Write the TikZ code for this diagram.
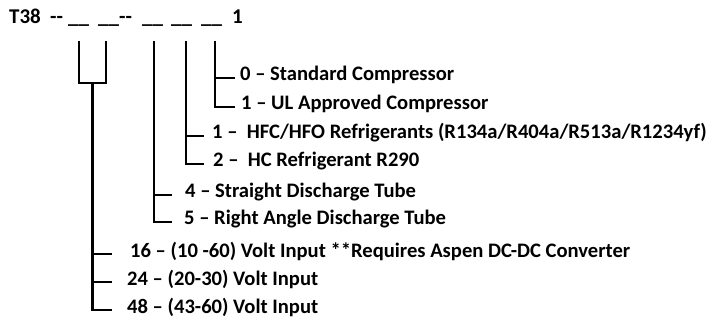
\documentclass[tikz,border=0pt]{standalone}
\usepackage{fontspec}
\setmainfont{Carlito}
\usetikzlibrary{positioning}

\begin{document}
\begin{tikzpicture}[
  x=1pt, y=-1pt,
  font=\bfseries\fontsize{20.6}{24}\selectfont,
  codepart/.style={anchor=base west, inner sep=0pt,
                   font=\bfseries\fontsize{21}{24}\selectfont},
  optlabel/.style={anchor=west, inner sep=0pt,
                   text height=0.8em, text depth=0.2em},
  tree/.style={line width=2.7pt, black},
]
\useasboundingbox (0,0) rectangle (712,323);

% ---- Part number code ----
\node[codepart] (t38)    at (9,24)   {T38};
\node[codepart] (dashA)  at (50,24)  {-{}-};
\node[codepart] (blankA) at (68,24)  {\_\_};
\node[codepart] (blankB) at (98,24)  {\_\_-{}-};
\node[codepart] (blankC) at (142,24) {\_\_};
\node[codepart] (blankD) at (171,24) {\_\_};
\node[codepart] (blankE) at (201,24) {\_\_};
\node[codepart] (last)   at (232,24) {1};

% ---- Tops of the drop lines ----
\coordinate (vA) at (79,41);
\coordinate (vB) at (106,41);
\coordinate (vC) at (154,41);
\coordinate (vD) at (186,41);
\coordinate (vE) at (215,41);
\coordinate (uJoin) at (92.5,83);

% Tick ends
\coordinate (endU) at (112,0);
\coordinate (endC) at (172,0);
\coordinate (endD) at (204,0);
\coordinate (endE) at (235,0);

% ---- Option labels ----
\node[optlabel] (comp0) at (240,78)  {0 – Standard Compressor};
\node[optlabel] (comp1) at (241,107) {1 – UL Approved Compressor};
\node[optlabel] (refr1) at (212,136) {1 –~~HFC/HFO Refrigerants (R134a/R404a/R513a/R1234yf)};
\node[optlabel] (refr2) at (213,164) {2 –~~HC Refrigerant R290};
\node[optlabel] (tube4) at (185,195) {4 – Straight Discharge Tube};
\node[optlabel] (tube5) at (184,222) {5 – Right Angle Discharge Tube};
\node[optlabel] (volt16) at (130,254) {16 – (10 -60) Volt Input **Requires Aspen DC-DC Converter};
\node[optlabel] (volt24) at (127,282) {24 – (20-30) Volt Input};
\node[optlabel] (volt48) at (127,310) {48 – (43-60) Volt Input};

% ---- Compressor ----
\draw[tree] (vE) |- (endE |- comp1.west);
\draw[tree] (vE |- comp0.west) -- (endE |- comp0.west);

% ---- Refrigerant ----
\draw[tree] (vD) |- (endD |- refr2.west);
\draw[tree] (vD |- refr1.west) -- (endD |- refr1.west);

% ---- Discharge tube ----
\draw[tree] (vC) |- (endC |- tube5.west);
\draw[tree] (vC |- tube4.west) -- (endC |- tube4.west);

% ---- Voltage (two digits joined) ----
\draw[tree] (vA) |- (uJoin) -| (vB);
\draw[tree] (uJoin) |- (endU |- volt48.west);
\draw[tree] (uJoin |- volt16.west) -- (endU |- volt16.west);
\draw[tree] (uJoin |- volt24.west) -- (endU |- volt24.west);

\end{tikzpicture}
\end{document}
